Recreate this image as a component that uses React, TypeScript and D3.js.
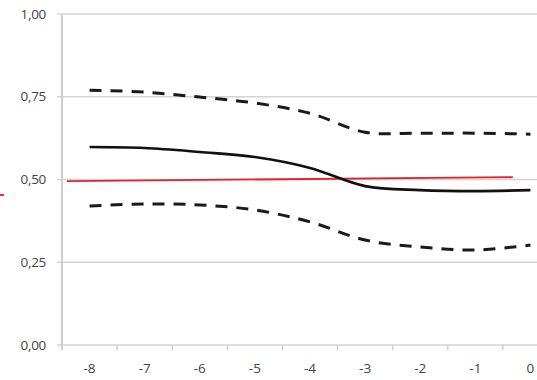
import React from 'react'
import * as d3 from 'd3'

const periods = [-8, -7, -6, -5, -4, -3, -2, -1, 0]
const estimate = [0.598, 0.595, 0.583, 0.568, 0.535, 0.48, 0.468, 0.465, 0.468]
const upperBand = [0.77, 0.764, 0.749, 0.731, 0.7, 0.643, 0.64, 0.64, 0.637]
const lowerBand = [0.42, 0.426, 0.423, 0.408, 0.372, 0.317, 0.296, 0.287, 0.302]
const refX = [-8.41, -0.32]
const refY = [0.495, 0.507]
const yTicks = [0, 0.25, 0.5, 0.75, 1]

const W = 537
const H = 380
const FONT = '"Open Sans", "Liberation Sans", sans-serif'

const App = () => {
  const x = d3.scaleLinear().domain([-8.5, 0.5]).range([62, 558])
  const y = d3.scaleLinear().domain([0, 1]).range([345, 14])

  const line = d3.line<[number, number]>()
    .x(d => x(d[0]))
    .y(d => y(d[1]))
    .curve(d3.curveCatmullRom.alpha(0.5))

  const pts = (vals: number[]) => periods.map((p, i) => [p, vals[i]] as [number, number])
  const straight = d3.line<[number, number]>().x(d => x(d[0])).y(d => y(d[1]))

  const fmt = (v: number) => v.toFixed(2).replace('.', ',')
  const catTicks = d3.range(periods.length + 1).map(i => -8.5 + i)

  return (
    <div style={{ position: 'absolute', left: 0, top: 0 }}>
      <svg width={W} height={H} style={{ display: 'block', background: '#fff' }}>
        {/* gridlines + y labels */}
        {yTicks.map(t => (
          <g key={t}>
            <line x1={57} x2={W} y1={y(t)} y2={y(t)} stroke="#d4d4d4" strokeWidth={1.6} />
            <text x={46} y={y(t)} dy="0.35em" textAnchor="end" fontSize={13.5}
              fontFamily={FONT} fill="#444" letterSpacing={-0.3}>{fmt(t)}</text>
          </g>
        ))}
        {/* y axis */}
        <line x1={62} x2={62} y1={y(1)} y2={y(0) + 5} stroke="#cfcfcf" strokeWidth={2} />
        {/* x ticks */}
        {catTicks.map(t => (
          <line key={t} x1={x(t)} x2={x(t)} y1={y(0)} y2={y(0) + 5} stroke="#cfcfcf" strokeWidth={1.5} />
        ))}
        {periods.map(p => (
          <text key={p} x={x(p)} y={373} textAnchor="middle" fontSize={13.5}
            fontFamily={FONT} fill="#444">{p}</text>
        ))}
        {/* series */}
        <path d={straight(refX.map((v, i) => [v, refY[i]] as [number, number])) || ''}
          fill="none" stroke="#e8202a" strokeWidth={1.8} />
        <path d={line(pts(upperBand)) || ''} fill="none" stroke="#1a1a1a"
          strokeWidth={3} strokeDasharray="12,9" />
        <path d={line(pts(lowerBand)) || ''} fill="none" stroke="#1a1a1a"
          strokeWidth={3} strokeDasharray="12,9" />
        <path d={line(pts(estimate)) || ''} fill="none" stroke="#111"
          strokeWidth={2.6} />
        {/* stray legend mark */}
        <line x1={0} x2={4} y1={195} y2={195} stroke="#e8202a" strokeWidth={1.8} />
      </svg>
    </div>
  )
}

export default App
